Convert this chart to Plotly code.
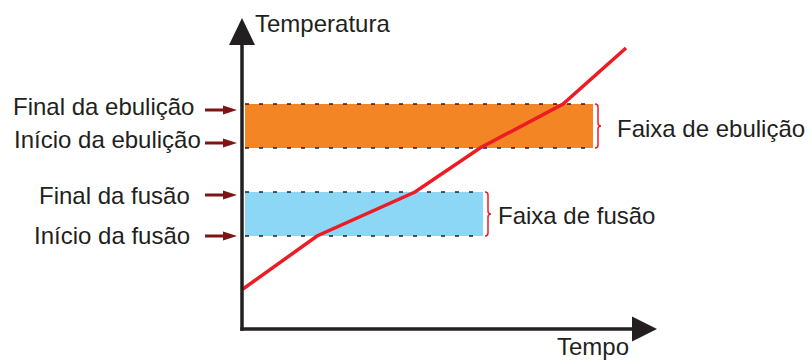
import plotly.graph_objects as go

# ---- data (arbitrary units: time, temperature) ----
time = [0.1, 7.5, 17.3, 23.8, 32.1, 38.4]
temperature = [4.0, 9.3, 13.7, 18.1, 22.5, 28.1]

fusion_range = [9.3, 13.7]      # início / final da fusão
boiling_range = [18.1, 22.5]    # início / final da ebulição
fusion_end_time = 24.1
boiling_end_time = 35.1

left_labels = ["Início da fusão", "Final da fusão", "Início da ebulição", "Final da ebulição"]
band_labels = ["Faixa de fusão", "Faixa de ebulição"]
axis_titles = ["Tempo", "Temperatura"]

INK = "#231f20"
RED = "#ed1c24"
DARKRED = "#7d1517"
ORANGE = "#f48524"
BLUE = "#8dd7f6"
FONT = "Liberation Sans, Arial, sans-serif"

fig = go.Figure()
fig.add_trace(go.Scatter(x=time, y=temperature, mode="lines",
                         line=dict(color=RED, width=3.5), hoverinfo="skip",
                         showlegend=False))

shapes = []
annotations = []

# bands
for (lo, hi), xend, col in [(fusion_range, fusion_end_time, BLUE),
                            (boiling_range, boiling_end_time, ORANGE)]:
    shapes.append(dict(type="rect", x0=0.3, x1=xend, y0=lo, y1=hi,
                       fillcolor=col, line=dict(width=0), layer="below"))
    for yy in (lo, hi):
        shapes.append(dict(type="line", x0=0.3, x1=xend, y0=yy, y1=yy,
                           line=dict(color=INK, width=1.5, dash="4px,10px"),
                           layer="below"))
    # brace
    x0 = xend + 0.2
    d = 0.3
    ym = (lo + hi) / 2
    path = (f"M{x0},{hi} Q{x0+d},{hi} {x0+d},{hi-d} L{x0+d},{ym+d} "
            f"Q{x0+d},{ym} {x0+2*d},{ym} Q{x0+d},{ym} {x0+d},{ym-d} "
            f"L{x0+d},{lo+d} Q{x0+d},{lo} {x0},{lo}")
    shapes.append(dict(type="path", path=path, line=dict(color=RED, width=1.5)))

# band labels
annotations.append(dict(x=fusion_end_time + 1.3, y=(fusion_range[0] + fusion_range[1]) / 2 - 0.1,
                        text=band_labels[0], xanchor="left", yanchor="middle"))
annotations.append(dict(x=boiling_end_time + 2.2, y=(boiling_range[0] + boiling_range[1]) / 2 - 0.2,
                        text=band_labels[1], xanchor="left", yanchor="middle"))

# left labels with arrows
levels = [fusion_range[0], fusion_range[1], boiling_range[0], boiling_range[1]]
arrow_off = [0.0, -0.3, 0.5, -0.6]
text_off = [0.1, -0.3, 0.9, -0.2]
text_x = [-5.0, -5.0, -3.9, -4.6]
for lab, lv, ao, to, tx in zip(left_labels, levels, arrow_off, text_off, text_x):
    ya = lv + ao
    shapes.append(dict(type="line", x0=-3.7, x1=-1.7, y0=ya, y1=ya,
                       line=dict(color=DARKRED, width=3)))
    shapes.append(dict(type="path", path=f"M-1.9,{ya+0.45} L-1.9,{ya-0.45} L-0.5,{ya} Z",
                       fillcolor=DARKRED, line=dict(width=0)))
    annotations.append(dict(x=tx, y=lv + to, text=lab, xanchor="right", yanchor="middle"))

# axes
shapes.append(dict(type="line", x0=0, x1=0, y0=-0.17, y1=28.6, line=dict(color=INK, width=3.5)))
shapes.append(dict(type="line", x0=-0.17, x1=39.2, y0=0, y1=0, line=dict(color=INK, width=3.5)))
shapes.append(dict(type="path", path="M-1.3,28.4 L1.3,28.4 L0,31.1 Z",
                   fillcolor=INK, line=dict(width=0)))
shapes.append(dict(type="path", path="M39.0,1.25 L39.0,-1.25 L41.5,0 Z",
                   fillcolor=INK, line=dict(width=0)))

annotations.append(dict(x=1.1, y=30.55, text=axis_titles[1], xanchor="left", yanchor="middle"))
annotations.append(dict(x=31.3, y=-1.75, text=axis_titles[0], xanchor="left", yanchor="middle"))

for a in annotations:
    a.update(xref="x", yref="y", showarrow=False,
             font=dict(family=FONT, size=24, color=INK))

fig.update_layout(
    width=811, height=361,
    margin=dict(l=0, r=0, t=0, b=0),
    paper_bgcolor="white", plot_bgcolor="white",
    xaxis=dict(range=[-24.2, 56.9], visible=False, fixedrange=True),
    yaxis=dict(range=[-3.2, 32.9], visible=False, fixedrange=True),
    shapes=shapes, annotations=annotations, showlegend=False,
)

fig.write_html("out.html", config={"displayModeBar": False},
               post_script="document.body.style.margin='0';document.body.style.overflow='hidden';")
